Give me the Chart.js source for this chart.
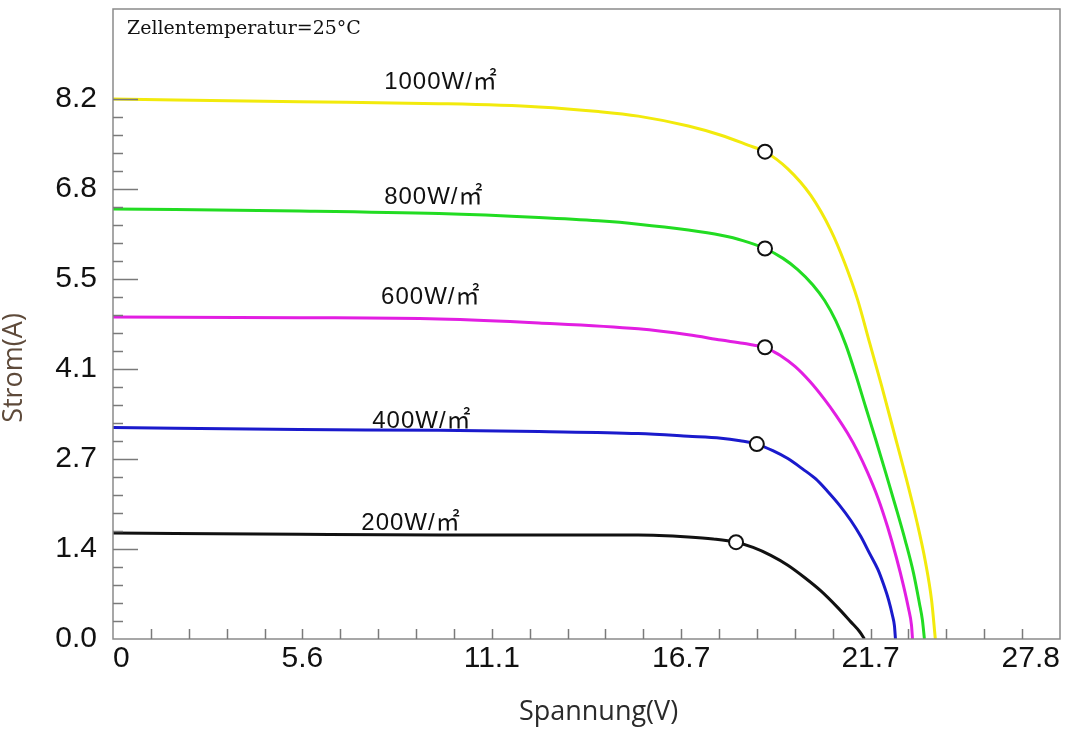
<!DOCTYPE html>
<html><head><meta charset="utf-8">
<script src="https://cdn.jsdelivr.net/npm/chart.js@4.4.1/dist/chart.umd.min.js"></script>
<style>html,body{margin:0;padding:0;background:#fff;overflow:hidden}</style>
</head><body>
<canvas id="c" width="1080" height="732"></canvas>
<script>
// ---- data ----
const v1000 = [0, 5.47, 9.57, 12.50, 14.25, 15.42, 16.89, 17.85, 18.64, 19.14, 19.81, 20.48, 21.07, 21.48, 21.86, 22.21, 22.56, 22.91, 23.26, 23.59, 23.85, 24.03, 24.14];
const i1000 = [8.20, 8.16, 8.13, 8.08, 8.01, 7.94, 7.79, 7.65, 7.50, 7.40, 7.14, 6.74, 6.21, 5.71, 5.15, 4.50, 3.85, 3.17, 2.49, 1.80, 1.17, 0.59, 0];
const v800 = [0, 5.47, 9.57, 12.50, 14.25, 15.42, 16.89, 17.85, 18.49, 19.14, 19.67, 20.10, 20.54, 20.89, 21.22, 21.51, 21.80, 22.09, 22.39, 22.68, 22.97, 23.26, 23.50, 23.67, 23.76, 23.82];
const i800 = [6.53, 6.50, 6.46, 6.40, 6.35, 6.30, 6.21, 6.13, 6.05, 5.93, 5.78, 5.61, 5.38, 5.14, 4.83, 4.47, 4.02, 3.53, 3.03, 2.53, 2.02, 1.49, 1.00, 0.55, 0.29, 0];
const v600 = [0, 5.47, 9.57, 12.50, 15.42, 16.89, 17.85, 18.49, 18.82, 19.14, 19.37, 19.58, 20.02, 20.46, 20.87, 21.22, 21.57, 21.86, 22.15, 22.45, 22.74, 23.00, 23.21, 23.35, 23.44, 23.47];
const i600 = [4.89, 4.88, 4.86, 4.80, 4.71, 4.62, 4.54, 4.49, 4.46, 4.43, 4.37, 4.31, 4.14, 3.91, 3.65, 3.40, 3.12, 2.85, 2.53, 2.15, 1.70, 1.23, 0.80, 0.47, 0.21, 0];
const v400 = [0, 5.47, 9.57, 12.50, 15.42, 16.89, 17.85, 18.41, 18.90, 19.37, 19.81, 20.25, 20.63, 20.98, 21.33, 21.66, 21.95, 22.21, 22.45, 22.62, 22.77, 22.88, 22.94, 22.97];
const i400 = [3.21, 3.18, 3.17, 3.15, 3.12, 3.08, 3.05, 3.01, 2.96, 2.86, 2.74, 2.58, 2.43, 2.24, 2.03, 1.80, 1.56, 1.30, 1.06, 0.83, 0.59, 0.36, 0.20, 0];
const v200 = [0, 5.47, 9.57, 12.50, 15.42, 16.89, 17.62, 18.29, 18.79, 19.31, 19.81, 20.31, 20.78, 21.27, 21.66, 21.92, 22.06];
const i200 = [1.61, 1.59, 1.58, 1.58, 1.58, 1.55, 1.52, 1.47, 1.39, 1.27, 1.12, 0.93, 0.73, 0.48, 0.26, 0.11, 0];
const mppV = [19.14, 19.14, 19.14, 18.90, 18.29];
const mppI = [7.40, 5.93, 4.43, 2.96, 1.47];
const curveNames = ["1000W/㎡", "800W/㎡", "600W/㎡", "400W/㎡", "200W/㎡"];
const xTickValues = [0, 5.56, 11.12, 16.68, 22.24, 27.8];
const xTickLabels = ["0", "5.6", "11.1", "16.7", "21.7", "27.8"];
const yTickValues = [0, 1.3667, 2.7333, 4.1, 5.4667, 6.8333, 8.2];
const yTickLabels = ["0.0", "1.4", "2.7", "4.1", "5.5", "6.8", "8.2"];
const noteText = "Zellentemperatur=25°C";
const xTitle = "Spannung(V)";
const yTitle = "Strom(A)";

// ---- presentation ----
const colors = ["#f2ea0c", "#22dc22", "#e21ee2", "#1a1acc", "#111111"];
const labelAnchors = [[7.96, 8.35], [7.96, 6.61], [7.87, 5.09], [7.61, 3.20], [7.29, 1.65]];
const noteAnchor = [0.41, 9.18];

const series = [[v1000, i1000], [v800, i800], [v600, i600], [v400, i400], [v200, i200]];
const toPts = (xs, ys) => xs.map((v, k) => ({x: v, y: ys[k]}));

const datasets = [{
  label: 'MPP', data: toPts(mppV, mppI), showLine: false, order: -1,
  pointRadius: 7, pointHoverRadius: 7, pointBackgroundColor: '#ffffff',
  pointBorderColor: '#111111', pointBorderWidth: 2
}];
series.forEach((s, k) => datasets.push({
  label: curveNames[k], data: toPts(s[0], s[1]), borderColor: colors[k],
  borderWidth: 3, pointRadius: 0, fill: false, cubicInterpolationMode: 'monotone'
}));

const decor = {
  id: 'decor',
  afterDatasetsDraw(chart) {
    const {ctx, chartArea: a, scales: {x, y}} = chart;
    ctx.save();
    // frame
    ctx.strokeStyle = '#8a8a8a'; ctx.lineWidth = 1.5;
    ctx.strokeRect(a.left, a.top, a.right - a.left, a.bottom - a.top);
    // inward tick marks
    ctx.strokeStyle = '#7a7a7a'; ctx.lineWidth = 1.5;
    const xStep = (xTickValues[1] - xTickValues[0]) / 5;
    const nx = Math.round((xTickValues[xTickValues.length - 1] - xTickValues[0]) / xStep);
    for (let k = 1; k < nx; k++) {
      const px = Math.round(x.getPixelForValue(k * xStep)) + 0.5;
      ctx.beginPath(); ctx.moveTo(px, a.bottom); ctx.lineTo(px, a.bottom - 10); ctx.stroke();
    }
    const yStep = (yTickValues[1] - yTickValues[0]) / 5;
    const ny = Math.round(yTickValues[yTickValues.length - 1] / yStep);
    for (let k = 1; k <= ny; k++) {
      const py = Math.round(y.getPixelForValue(k * yStep)) + 0.5;
      const len = (k % 5 === 0) ? 25 : 10;
      ctx.beginPath(); ctx.moveTo(a.left, py); ctx.lineTo(a.left + len, py); ctx.stroke();
    }
    // curve labels
    ctx.fillStyle = '#111'; ctx.textAlign = 'left'; ctx.textBaseline = 'alphabetic';
    ctx.font = '24px "Liberation Sans", "Noto Sans CJK SC", sans-serif';
    if ('letterSpacing' in ctx) ctx.letterSpacing = '1px';
    curveNames.forEach((t, k) => {
      ctx.fillText(t, x.getPixelForValue(labelAnchors[k][0]), y.getPixelForValue(labelAnchors[k][1]));
    });
    if ('letterSpacing' in ctx) ctx.letterSpacing = '0px';
    // note
    ctx.font = '19px "DejaVu Serif", serif';
    ctx.fillText(noteText, x.getPixelForValue(noteAnchor[0]), y.getPixelForValue(noteAnchor[1]));
    // axis titles
    ctx.font = '27px "Open Sans", sans-serif';
    ctx.fillStyle = '#2a2a2a'; ctx.textAlign = 'center'; ctx.textBaseline = 'middle';
    ctx.fillText(xTitle, (a.left + a.right) / 2 + 12, 712);
    ctx.save();
    ctx.translate(14, (a.top + a.bottom) / 2 + 44);
    ctx.rotate(-Math.PI / 2);
    ctx.fillStyle = '#5e4a3a';
    ctx.fillText(yTitle, 0, 0);
    ctx.restore();
    ctx.restore();
  }
};

new Chart(document.getElementById('c'), {
  type: 'line',
  data: {datasets},
  plugins: [decor],
  options: {
    responsive: false, animation: false, devicePixelRatio: 1,
    layout: {padding: {left: 0, right: 20, top: 7, bottom: 0}},
    plugins: {legend: {display: false}, tooltip: {enabled: false}},
    events: [],
    scales: {
      x: {
        type: 'linear', min: 0, max: 27.8,
        afterBuildTicks: s => { s.ticks = xTickValues.map(v => ({value: v})); },
        afterFit: s => { s.height = 93; s.paddingLeft = 0; s.paddingRight = 0; },
        ticks: {
          callback: (v, i) => xTickLabels[i], autoSkip: false, maxRotation: 0, align: 'inner',
          padding: 2, color: '#111', font: {family: 'Liberation Sans', size: 30}
        },
        grid: {display: false, drawTicks: false}, border: {display: false}
      },
      y: {
        type: 'linear', min: 0, max: 9.567,
        afterBuildTicks: s => { s.ticks = yTickValues.map(v => ({value: v})); },
        afterFit: s => { s.width = 113; s.paddingTop = 0; s.paddingBottom = 0; },
        ticks: {
          callback: (v, i) => yTickLabels[i], autoSkip: false,
          padding: 16, color: '#111', font: {family: 'Liberation Sans', size: 30}
        },
        grid: {display: false, drawTicks: false}, border: {display: false}
      }
    }
  }
});
</script>
</body></html>
